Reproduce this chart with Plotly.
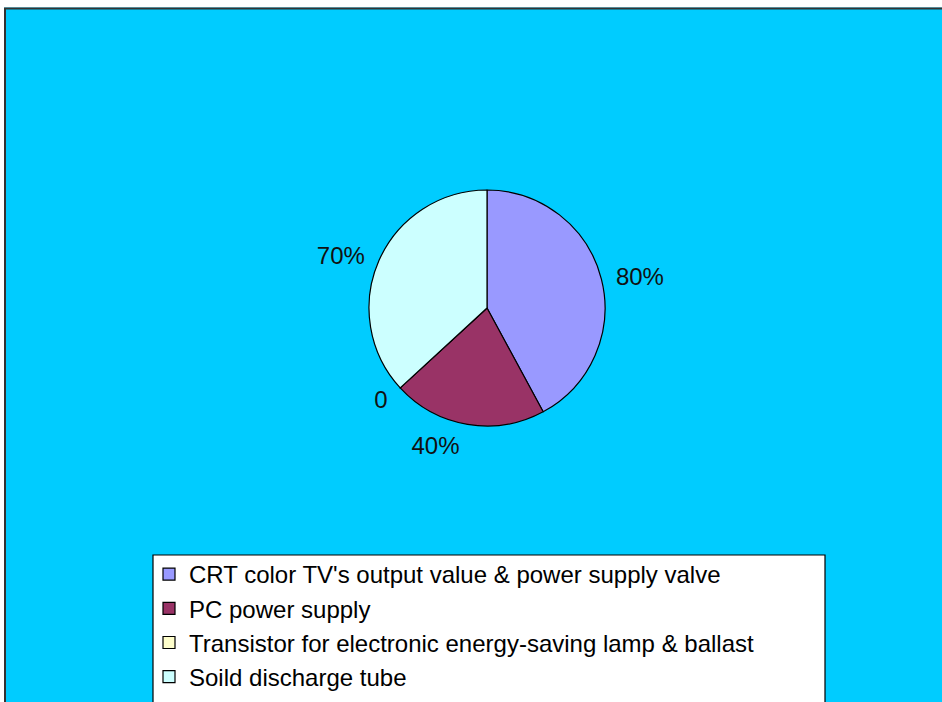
import plotly.graph_objects as go

categories = [
    "CRT color TV's output value & power supply valve",
    "PC power supply",
    "Transistor for electronic energy-saving lamp & ballast",
    "Soild discharge tube",
]
values = [80, 40, 0, 70]
value_labels = ["80%", "40%", "0", "70%"]
colors = ["#9999FF", "#993366", "#FFFFCC", "#CCFFFF"]

W, H = 942, 702

def px(x):
    return x / W

def py(y):
    return 1 - y / H

CX, CY, R = 487, 308, 118   # pie centre / radius in pixels
RL = 126                    # radius used for placing the outside labels

fig = go.Figure()
# helper pie (transparent) carrying the outside value labels a bit farther out
fig.add_trace(go.Pie(
    labels=categories,
    values=values,
    text=value_labels,
    textinfo="text",
    textposition="outside",
    sort=False,
    direction="clockwise",
    rotation=0,
    marker=dict(colors=["rgba(0,0,0,0)"] * 4, line=dict(width=0)),
    outsidetextfont=dict(family="Liberation Sans", size=24, color="#111111"),
    domain=dict(x=[px(CX - RL), px(CX + RL)], y=[py(CY + RL), py(CY - RL)]),
    showlegend=False,
    hoverinfo="skip",
))
# visible pie
fig.add_trace(go.Pie(
    labels=categories,
    values=values,
    text=value_labels,
    textinfo="none",
    sort=False,
    direction="clockwise",
    rotation=0,
    marker=dict(colors=colors, line=dict(color="black", width=1.2)),
    domain=dict(x=[px(CX - R), px(CX + R)], y=[py(CY + R), py(CY - R)]),
    showlegend=True,
    hoverinfo="label+text",
))

shapes = [
    # white margins of the page outside the chart frame
    dict(type="rect", xref="paper", yref="paper", x0=0, x1=1, y0=py(7.5), y1=1,
         fillcolor="white", line=dict(width=0), layer="below"),
    dict(type="rect", xref="paper", yref="paper", x0=0, x1=px(4), y0=0, y1=1,
         fillcolor="white", line=dict(width=0), layer="below"),
    # frame border
    dict(type="line", xref="paper", yref="paper", x0=px(4), x1=1.01, y0=py(8.5), y1=py(8.5),
         line=dict(color="#333333", width=2)),
    dict(type="line", xref="paper", yref="paper", x0=px(5), x1=px(5), y0=py(8), y1=-0.01,
         line=dict(color="#333333", width=2)),
    # legend box
    dict(type="rect", xref="paper", yref="paper", x0=px(153), x1=px(825), y0=-0.05, y1=py(555),
         fillcolor="white", line=dict(color="black", width=1.2), layer="below"),
]

fig.update_layout(
    width=W, height=H,
    margin=dict(l=0, r=0, t=0, b=0),
    paper_bgcolor="#00CCFF",
    plot_bgcolor="#00CCFF",
    shapes=shapes,
    legend=dict(
        x=px(149), y=py(552), xanchor="left", yanchor="top",
        bgcolor="rgba(0,0,0,0)", borderwidth=0,
        font=dict(family="Liberation Sans", size=24, color="black"),
        traceorder="normal",
        itemwidth=30,
    ),
    font=dict(family="Liberation Sans"),
)

fig.write_html(
    "out.html",
    config={"displayModeBar": False},
    post_script="document.body.style.margin='0';document.body.style.overflow='hidden';",
)
